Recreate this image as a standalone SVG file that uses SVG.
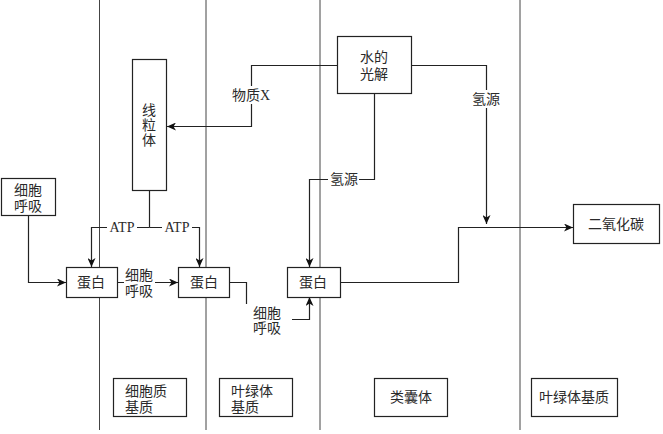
<svg xmlns="http://www.w3.org/2000/svg" width="663" height="434" viewBox="0 0 663 434">
<defs>
<style>
.lane{stroke:#444;stroke-width:1;fill:none}
.box{fill:#fff;stroke:#222;stroke-width:1.2}
.lbl{fill:#fff;stroke:none}
.c{stroke:#222;stroke-width:1.2;fill:none}
.ca{stroke:#222;stroke-width:1.2;fill:none;marker-end:url(#ah)}
text{font-family:"Liberation Serif","Noto Sans CJK SC",serif;font-size:14px;fill:#2a2a2a;dominant-baseline:central}
.m{text-anchor:middle}
</style>
<marker id="ah" markerUnits="userSpaceOnUse" markerWidth="10" markerHeight="8" refX="9" refY="4" orient="auto">
<path d="M0,0 L9,4 L0,8 L2.5,4 z" fill="#111"/>
</marker>
</defs>
<rect width="663" height="434" fill="#fff"/>
<g id="lanes">
<line class="lane" x1="99.5" y1="0" x2="99.5" y2="430"/>
<line class="lane" x1="206" y1="0" x2="206" y2="430"/>
<line class="lane" x1="320" y1="0" x2="320" y2="430"/>
<line class="lane" x1="520" y1="0" x2="520" y2="430"/>
</g>
<g id="connectors">
<!-- 物质X -->
<polyline class="ca" points="337,65.5 251.5,65.5 251.5,126.5 167,126.5"/>
<rect class="lbl" x="230" y="86" width="42" height="18"/>
<text class="m" x="251" y="95">物质X</text>
<!-- 氢源 right -->
<polyline class="ca" points="411,65.5 486.5,65.5 486.5,224"/>
<rect class="lbl" x="472" y="90" width="29" height="18"/>
<text class="m" x="486" y="99">氢源</text>
<!-- 氢源 middle -->
<polyline class="ca" points="374.5,93 374.5,179.5 309.5,179.5 309.5,267"/>
<rect class="lbl" x="328" y="170" width="31" height="18"/>
<text class="m" x="344" y="179">氢源</text>
<!-- left 细胞呼吸 to 蛋白 -->
<polyline class="ca" points="28.5,216 28.5,282.5 66,282.5"/>
<!-- ATP -->
<line class="c" x1="149.5" y1="190" x2="149.5" y2="227.5"/>
<polyline class="ca" points="149.5,227.5 91.5,227.5 91.5,267"/>
<polyline class="ca" points="149.5,227.5 199.5,227.5 199.5,267"/>
<rect class="lbl" x="107" y="219" width="30" height="17"/>
<text class="m" x="122" y="227">ATP</text>
<rect class="lbl" x="162" y="219" width="30" height="17"/>
<text class="m" x="177" y="227">ATP</text>
<!-- 蛋白 to 蛋白 -->
<line class="ca" x1="117" y1="282.5" x2="178" y2="282.5"/>
<rect class="lbl" x="124" y="267" width="31" height="32"/>
<text x="125" y="275">细胞</text>
<text x="125" y="291">呼吸</text>
<!-- mid 蛋白 to right 蛋白 -->
<polyline class="c" points="229,282.5 246.5,282.5 246.5,304"/>
<polyline class="ca" points="292,319.5 309.5,319.5 309.5,297"/>
<text x="253" y="313">细胞</text>
<text x="253" y="328">呼吸</text>
<!-- right 蛋白 to 二氧化碳 -->
<polyline class="ca" points="340,282.5 458.5,282.5 458.5,227.5 573,227.5"/>
</g>
<g id="n_mito">
<rect class="box" x="132.5" y="59.5" width="34" height="131"/>
<text class="m" x="149" y="110">线</text>
<text class="m" x="149" y="125">粒</text>
<text class="m" x="149" y="140">体</text>
</g>
<g id="n_resp">
<rect class="box" x="1.5" y="178.5" width="54" height="37"/>
<text class="m" x="28" y="190">细胞</text>
<text class="m" x="28" y="206">呼吸</text>
</g>
<g id="n_water">
<rect class="box" x="337.5" y="36.5" width="74" height="57"/>
<text class="m" x="374" y="57">水的</text>
<text class="m" x="374" y="74">光解</text>
</g>
<g id="n_p1">
<rect class="box" x="66.5" y="267.5" width="51" height="30"/>
<text class="m" x="91" y="282">蛋白</text>
</g>
<g id="n_p2">
<rect class="box" x="178.5" y="267.5" width="51" height="30"/>
<text class="m" x="204" y="282">蛋白</text>
</g>
<g id="n_p3">
<rect class="box" x="287.5" y="267.5" width="53" height="30"/>
<text class="m" x="313" y="282">蛋白</text>
</g>
<g id="n_co2">
<rect class="box" x="573.5" y="204.5" width="86" height="39"/>
<text class="m" x="616" y="224">二氧化碳</text>
</g>
<g id="n_cyto">
<rect class="box" x="113.5" y="378.5" width="73" height="38"/>
<text x="125" y="391">细胞质</text>
<text x="125" y="407">基质</text>
</g>
<g id="n_stroma1">
<rect class="box" x="219.5" y="378.5" width="73" height="38"/>
<text x="231" y="391">叶绿体</text>
<text x="231" y="407">基质</text>
</g>
<g id="n_thyl">
<rect class="box" x="374.5" y="378.5" width="73" height="38"/>
<text class="m" x="411" y="397">类囊体</text>
</g>
<g id="n_stroma2">
<rect class="box" x="531.5" y="378.5" width="86" height="38"/>
<text class="m" x="574" y="397">叶绿体基质</text>
</g>
</svg>
